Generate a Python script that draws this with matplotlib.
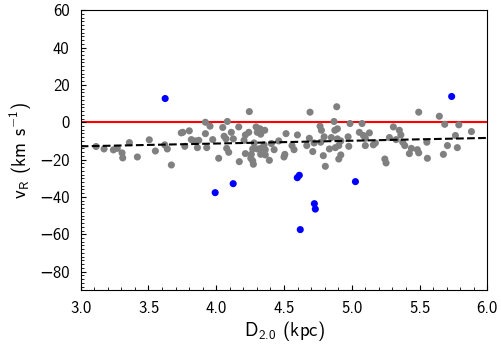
import matplotlib
matplotlib.use("Agg")
import matplotlib.pyplot as plt
import numpy as np
from matplotlib.ticker import MultipleLocator

plt.rcParams['font.family'] = ['cmss10', 'DejaVu Sans']
plt.rcParams['mathtext.fontset'] = 'custom'
plt.rcParams['mathtext.rm'] = 'cmss10'
plt.rcParams['mathtext.it'] = 'cmss10'
plt.rcParams['mathtext.sf'] = 'cmss10'
plt.rcParams['axes.formatter.use_mathtext'] = False

# gray sample: distance (kpc) and radial velocity (km/s)
gray_d = [3.113, 3.172, 3.241, 3.270, 3.305, 3.310, 3.359, 3.418, 3.506, 3.551,
          3.620, 3.639, 3.669, 3.742,
          4.244, 3.920, 3.954, 4.082, 4.048, 4.166, 4.294, 3.753, 3.801, 3.920,
          4.111, 4.240, 4.215, 4.303, 3.816, 3.846, 3.871, 3.974, 4.058, 4.072,
          4.126, 4.205, 4.279, 3.768, 3.861, 3.930, 4.077, 4.092, 4.269, 4.303,
          4.215, 4.259, 4.255, 4.269, 4.018, 4.170, 4.274,
          4.692, 4.889, 4.869, 4.766, 4.776, 4.875, 4.515, 4.599, 4.323, 4.358,
          4.328, 4.687, 4.796, 4.849, 4.461, 4.407, 4.353, 4.559, 4.668, 4.722,
          4.771, 4.328, 4.362, 4.427, 4.574, 4.712, 4.835, 4.879, 4.328, 4.362,
          4.506, 4.500, 4.790, 4.392, 4.805,
          4.987, 5.076, 5.307, 5.351, 5.362, 5.056, 5.130, 5.100, 5.086, 5.278,
          5.327, 5.376, 5.391, 5.440, 5.174, 5.159, 5.100, 4.894, 4.919, 4.904,
          4.978, 4.973, 4.894, 5.425, 4.919, 4.904, 5.244, 5.253,
          5.494, 5.646, 5.686, 5.790, 5.883, 5.765, 5.554, 5.706, 5.779, 5.484,
          5.494, 5.676, 5.558]
gray_v = [-13.0, -14.3, -14.8, -14.0, -16.4, -19.1, -10.9, -18.6, -9.4, -15.4,
          -12.1, -14.3, -22.9, -5.7,
          5.7, 0.0, -2.1, 0.4, -2.8, -2.5, -2.5, -5.4, -4.6, -6.1,
          -5.4, -5.4, -6.8, -5.4, -9.3, -10.0, -9.7, -9.3, -7.5, -8.9,
          -8.9, -9.7, -11.1, -12.9, -13.6, -13.6, -14.0, -16.1, -14.3, -14.3,
          -16.8, -17.2, -19.3, -20.7, -19.3, -21.1, -22.5,
          5.4, 8.3, 0.4, -2.1, -4.3, -4.3, -6.1, -6.8, -3.5, -4.3,
          -6.4, -8.6, -7.8, -8.2, -10.0, -11.4, -12.1, -12.5, -12.5, -11.1,
          -10.7, -14.0, -14.7, -14.7, -14.7, -15.7, -14.3, -13.6, -17.2, -17.5,
          -17.2, -18.6, -17.9, -20.4, -23.6,
          -0.7, -0.7, -2.5, -4.3, -6.8, -5.4, -5.7, -8.6, -7.1, -8.2,
          -9.3, -10.7, -12.5, -14.0, -11.1, -12.1, -12.5, -8.9, -10.0, -12.5,
          -12.9, -7.8, -3.5, -16.8, -17.5, -19.7, -19.7, -21.8,
          5.4, 3.2, -1.1, -1.4, -5.0, -7.1, -10.7, -12.5, -13.6, -14.7,
          -16.4, -17.2, -19.3]

# blue (outlier) sample
blue_d = [3.623, 3.992, 4.125, 4.598, 4.613, 4.620, 4.724, 4.731, 5.027, 5.737]
blue_v = [12.7, -37.7, -32.9, -29.7, -28.4, -57.5, -43.6, -46.5, -31.8, 13.8]

# linear fit: v = intercept + slope * D
fit_slope = 1.5
fit_intercept = -17.4

xlim = (3.0, 6.0)
ylim = (-90, 60)
xticks = [3.0, 3.5, 4.0, 4.5, 5.0, 5.5, 6.0]
yticks = [-80, -60, -40, -20, 0, 20, 40, 60]
ytick_labels = ["\u221280", "\u221260", "\u221240", "\u221220", "0", "20", "40", "60"]

fig = plt.figure(figsize=(5.02, 3.46), dpi=100)
ax = fig.add_axes([0.1608, 0.161, 0.8099, 0.8095])

ax.scatter(gray_d, gray_v, s=26, color='#808080', edgecolors='none', zorder=2)
ax.scatter(blue_d, blue_v, s=26, color='#0000ff', edgecolors='none', zorder=3)

ax.axhline(0, color='red', lw=1.5, zorder=1)
xx = np.array(xlim)
ax.plot(xx, fit_intercept + fit_slope * xx, color='black', ls='--', lw=1.5, zorder=4)

ax.set_xlim(*xlim)
ax.set_ylim(*ylim)
ax.set_xticks(xticks)
ax.set_xticklabels([f"{t:.1f}" for t in xticks])
ax.set_yticks(yticks)
ax.set_yticklabels(ytick_labels)
ax.xaxis.set_minor_locator(MultipleLocator(0.1))
ax.yaxis.set_minor_locator(MultipleLocator(2))
ax.tick_params(which='both', direction='in', labelsize=12, top=False, right=False)
ax.tick_params(which='major', length=3.5, width=0.8, pad=8)
ax.tick_params(which='minor', length=2, width=0.6)

ax.set_xlabel(r"D$_{\mathregular{2.0}}$ (kpc)", fontsize=13.5, labelpad=2)
ax.set_ylabel(r"v$_{\mathregular{R}}$ (km s$^{-1}$)", fontsize=13.5, labelpad=4)

fig.savefig("out.png", dpi=100)
